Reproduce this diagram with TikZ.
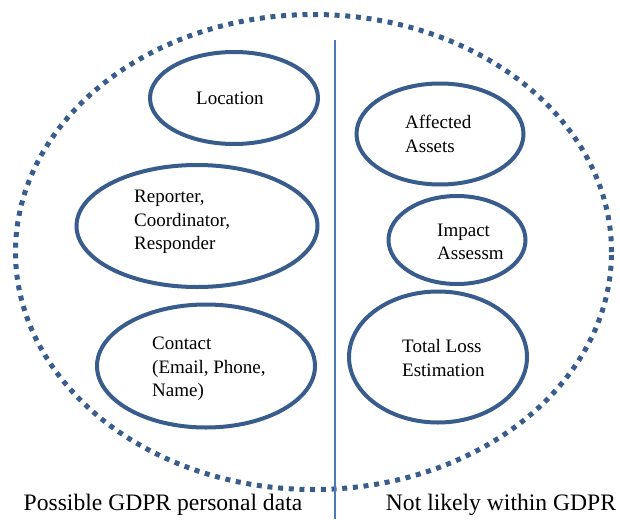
\documentclass[tikz,border=0pt]{standalone}
\usepackage{fontspec}
\setmainfont{Liberation Serif}
\usetikzlibrary{shapes.geometric,positioning}
\definecolor{bubbleblue}{RGB}{56,92,140}
\definecolor{splitblue}{RGB}{74,122,186}
\tikzset{
  bubble/.style={draw=bubbleblue, line width=4pt, ellipse, inner sep=0pt},
  bubbletext/.style={anchor=west, align=left, inner sep=0pt,
    font=\fontsize{19}{23.5}\selectfont},
  sidelabel/.style={anchor=center, inner sep=0pt, font=\fontsize{23.6}{26}\selectfont}
}

\begin{document}
\begin{tikzpicture}[x=1pt,y=-1pt]
        \useasboundingbox (0,0) rectangle (620,519);
        % outer dotted boundary and the dividing line
        \draw[bubbleblue, line width=5pt, dash pattern=on 5pt off 5.7pt]
            (313.5,252) ellipse [x radius=298pt, y radius=237.5pt];
        \coordinate (top) at (335,40);
        \coordinate (bottom) at (335,519);
        \draw[splitblue, line width=1.5pt] (top) -- (bottom);

        % left side
        \node[bubble, minimum width=168pt, minimum height=92pt] (location) at (234,98) {};
        \node[bubble, minimum width=241pt, minimum height=122pt] (reporter) at (197,226) {};
        \node[bubble, minimum width=218pt, minimum height=123pt] (contact) at (206,366) {};
        \node[bubbletext] (locationtxt) at (196,98) {Location};
        \node[bubbletext] (reportertxt) at (134,222) {Reporter,\\Coordinator,\\Responder};
        \node[bubbletext] (contacttxt) at (152,369) {Contact\\(Email, Phone,\\Name)};

        % right side
        \node[bubble, minimum width=167pt, minimum height=101pt] (assets) at (440,134) {};
        \node[bubble, minimum width=137pt, minimum height=88pt] (impact) at (457,240) {};
        \node[bubble, minimum width=178pt, minimum height=131pt] (loss) at (438,357) {};
        \node[bubbletext] (assetstxt) at (405,134) {Affected\\Assets};
        \node[bubbletext] (impacttxt) at (437,242) {Impact\\Assessm};
        \node[bubbletext] (losstxt) at (402,358) {Total Loss\\Estimation};

        \node[sidelabel] (personal) at (163,505) {Possible GDPR personal data};
        \node[sidelabel] (notgdpr) at (501,505) {Not likely within GDPR};
    \end{tikzpicture}
\end{document}
